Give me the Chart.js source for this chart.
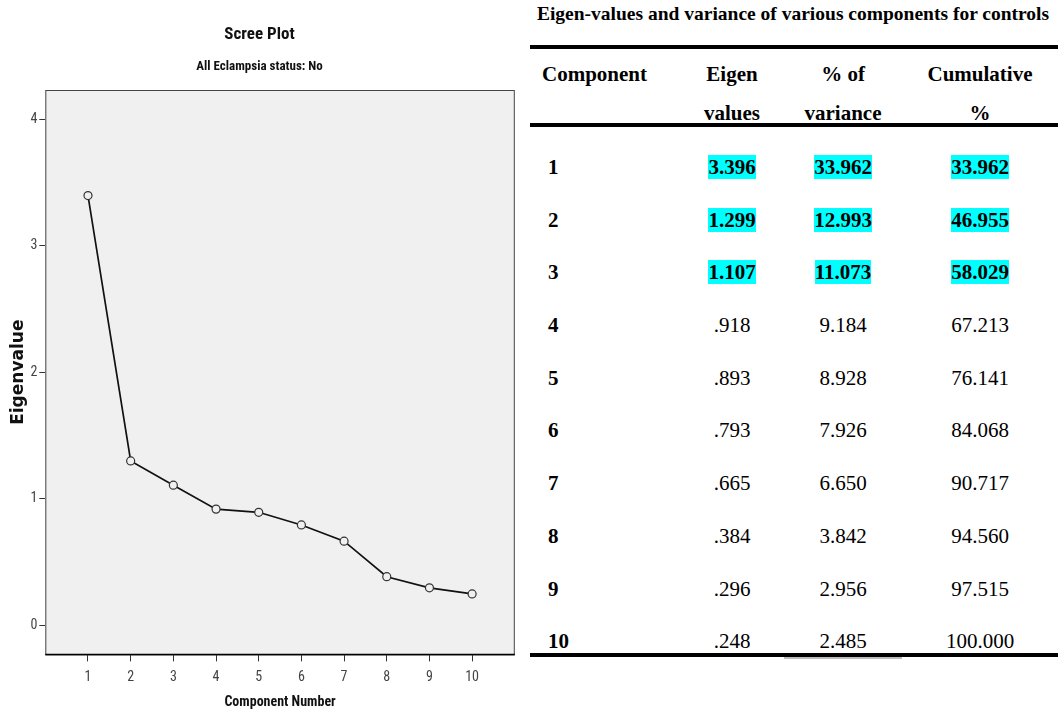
<!DOCTYPE html>
<html>
<head>
<meta charset="utf-8">
<title>Scree Plot</title>
<script src="https://cdn.jsdelivr.net/npm/chart.js@4.4.1/dist/chart.umd.min.js"></script>
<style>
  body { margin: 0; background: #fff; width: 1058px; height: 725px; position: relative; overflow: hidden; }
  #plot { position: absolute; left: 0; top: 0; width: 520px; height: 725px; }
  #caption {
    position: absolute; left: 528px; top: 3px; width: 530px;
    text-align: center; font: bold 19.5px/22px 'Liberation Serif', 'Times New Roman', serif; color: #000;
    white-space: nowrap;
  }
  #tbl {
    position: absolute; left: 530px; top: 45px; width: 528px;
    border-collapse: separate; border-spacing: 0; table-layout: fixed;
    font-family: 'Liberation Serif', 'Times New Roman', serif; font-size: 21px; color: #000;
  }
  #tbl td, #tbl th { padding: 0; text-align: center; vertical-align: top; }
  #tbl th { font-weight: bold; }
  #tbl tr.h1 { height: 50px; }
  #tbl tr.h1 th { border-top: 4px solid #000; padding-top: 13px; line-height: 24px; }
  #tbl tr.h2 { height: 32px; }
  #tbl tr.h2 th { border-bottom: 4px solid #000; padding-top: 8px; line-height: 20px; }
  #tbl th.first { text-align: left; padding-left: 12px; }
  #tbl tbody tr { height: 52.7px; }
  #tbl tbody td { padding-top: 28px; line-height: 24px; }
  #tbl tbody td.first { text-align: left; padding-left: 18px; font-weight: bold; }
  #tbl tbody tr.last td { border-bottom: 4px solid #000; }
  #tbl tbody tr.last td.under { box-shadow: 0 2px 0 #bbb; }
  #tbl .hl { background: #00ffff; font-weight: bold; }
</style>
</head>
<body>
<div id="plot"><canvas id="scree"></canvas></div>

<div id="caption">Eigen-values and variance of various components for controls</div>
<table id="tbl">
  <colgroup><col style="width:150px"><col style="width:104px"><col style="width:118px"><col style="width:156px"></colgroup>
  <thead>
    <tr class="h1"><th class="first">Component</th><th>Eigen</th><th>% of</th><th>Cumulative</th></tr>
    <tr class="h2"><th class="first"></th><th>values</th><th>variance</th><th>%</th></tr>
  </thead>
  <tbody></tbody>
</table>

<script>
const components = [1, 2, 3, 4, 5, 6, 7, 8, 9, 10];
const eigenvalues = [3.396, 1.299, 1.107, 0.918, 0.893, 0.793, 0.665, 0.384, 0.296, 0.248];
const variancePct = [33.962, 12.993, 11.073, 9.184, 8.928, 7.926, 6.650, 3.842, 2.956, 2.485];
const cumulativePct = [33.962, 46.955, 58.029, 67.213, 76.141, 84.068, 90.717, 94.560, 97.515, 100.000];
const highlightRows = [1, 2, 3];
const yTicks = [0, 1, 2, 3, 4];
const xTicks = components;

const narrow = "'Liberation Sans Narrow', 'Arial Narrow', 'Roboto Condensed', sans-serif";

// SPSS style: no leading zero for eigenvalues below 1
const fmtEigen = v => v.toFixed(3).replace(/^0\./, '.');

// table rows
const tbody = document.querySelector('#tbl tbody');
components.forEach((c, i) => {
    const tr = document.createElement('tr');
    const isLast = i === components.length - 1;
    if (isLast) tr.className = 'last';
    const first = document.createElement('td');
    first.className = 'first';
    first.textContent = c;
    tr.appendChild(first);
    [fmtEigen(eigenvalues[i]), variancePct[i].toFixed(3), cumulativePct[i].toFixed(3)].forEach((txt, j) => {
        const td = document.createElement('td');
        if (isLast && j === 1) td.className = 'under';
        if (highlightRows.includes(c)) {
            const span = document.createElement('span');
            span.className = 'hl';
            span.textContent = txt;
            td.appendChild(span);
        } else {
            td.textContent = txt;
        }
        tr.appendChild(td);
    });
    tbody.appendChild(tr);
});

// grey plot area with a frame, like the SPSS chart
const plotFrame = {
    id: 'plotFrame',
    beforeDraw(chart) {
        const { ctx, chartArea: a } = chart;
        ctx.save();
        ctx.fillStyle = '#f0f0f0';
        ctx.fillRect(a.left, a.top, a.right - a.left, a.bottom - a.top);
        ctx.restore();
    },
    afterDraw(chart) {
        const { ctx, chartArea: a } = chart;
        ctx.save();
        ctx.strokeStyle = '#444';
        ctx.lineWidth = 1;
        ctx.strokeRect(a.left + 0.5, a.top + 0.5, a.right - a.left - 1, a.bottom - a.top);
        ctx.strokeStyle = '#000';
        ctx.lineWidth = 1.5;
        ctx.beginPath();
        ctx.moveTo(a.left, a.bottom);
        ctx.lineTo(a.right, a.bottom);
        ctx.stroke();
        ctx.restore();
    }
};

new Chart(document.getElementById('scree'), {
    type: 'line',
    data: {
        datasets: [{
            label: 'Eigenvalue',
            data: components.map((c, i) => ({ x: c, y: eigenvalues[i] })),
            borderColor: '#111',
            borderWidth: 1.7,
            tension: 0,
            pointStyle: 'circle',
            pointRadius: 4,
            pointBorderWidth: 1.2,
            pointBorderColor: '#333',
            pointBackgroundColor: '#f0f0f0',
        }],
    },
    options: {
        responsive: true,
        maintainAspectRatio: false,
        animation: false,
        layout: { padding: { left: 4, right: 5, top: 0, bottom: 10 } },
        plugins: {
            legend: { display: false },
            tooltip: { enabled: false },
            title: {
                display: true,
                text: 'Scree Plot',
                color: '#111',
                font: { family: narrow, size: 17, weight: 'bold' },
                padding: { top: 25, bottom: 14 },
            },
            subtitle: {
                display: true,
                text: 'All Eclampsia status: No',
                color: '#111',
                font: { family: narrow, size: 13, weight: 'bold' },
                padding: { top: 0, bottom: 15 },
            },
        },
        scales: {
            x: {
                type: 'linear',
                min: 0,
                max: 11,
                afterBuildTicks: s => { s.ticks = xTicks.map(v => ({ value: v })); },
                ticks: { color: '#444', font: { family: narrow, size: 14 }, padding: 8, maxRotation: 0, autoSkip: false },
                grid: { display: true, drawOnChartArea: false, drawTicks: true, tickLength: 7, tickColor: '#333', tickWidth: 1 },
                border: { display: false },
                title: {
                    display: true,
                    text: 'Component Number',
                    color: '#111',
                    font: { family: narrow, size: 14, weight: 'bold' },
                    padding: { top: 0, bottom: 4 },
                },
            },
            y: {
                type: 'linear',
                min: -0.23,
                max: 4.23,
                afterBuildTicks: s => { s.ticks = yTicks.map(v => ({ value: v })); },
                ticks: { color: '#444', font: { family: narrow, size: 14 }, padding: 2 },
                grid: { display: true, drawOnChartArea: false, drawTicks: true, tickLength: 6, tickColor: '#333', tickWidth: 1 },
                border: { display: false },
                title: {
                    display: true,
                    text: 'Eigenvalue',
                    color: '#111',
                    font: { family: "'DejaVu Sans', Verdana, sans-serif", size: 17, weight: 'bold' },
                    padding: { top: 4, bottom: 0 },
                },
            },
        },
    },
    plugins: [plotFrame],
});
</script>
</body>
</html>
